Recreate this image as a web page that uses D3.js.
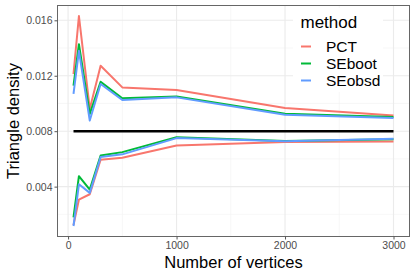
<!DOCTYPE html>
<html>
<head>
<meta charset="utf-8">
<script src="https://cdn.jsdelivr.net/npm/d3@7"></script>
<style>
  html, body { margin: 0; padding: 0; background: #fff; }
  svg { display: block; font-family: "Liberation Sans", Arial, sans-serif; }
</style>
</head>
<body>
<div class="chart"></div>
<script>
(function () {
    "use strict";

    // data
    var vertices = [50, 100, 200, 300, 500, 1000, 2000, 3000];
    var trueDensity = 0.008;
    var methods = ['PCT', 'SEboot', 'SEobsd'];
    var colors = ['#F8766D', '#00BA38', '#619CFF'];
    var pctUpper = [0.01212, 0.01631, 0.00961, 0.01272, 0.01116, 0.01097, 0.00968, 0.00913];
    var pctLower = [0.00122, 0.00307, 0.00345, 0.00594, 0.00609, 0.00697, 0.00722, 0.00726];
    var sebootUpper = [0.01128, 0.01428, 0.00925, 0.01157, 0.01037, 0.01051, 0.00925, 0.00903];
    var sebootLower = [0.00178, 0.00475, 0.00379, 0.00625, 0.00649, 0.00757, 0.00730, 0.00742];
    var seobsdUpper = [0.01069, 0.01380, 0.00877, 0.01140, 0.01025, 0.01044, 0.00918, 0.00896];
    var seobsdLower = [0.00116, 0.00417, 0.00355, 0.00613, 0.00633, 0.00750, 0.00728, 0.00745];
    var xTicks = [0, 1000, 2000, 3000];
    var xMinor = [500, 1500, 2500];
    var yTicks = [0.004, 0.008, 0.012, 0.016];
    var yMinor = [0.002, 0.006, 0.010, 0.014];

    var config = {
        width: 415,
        height: 277,
        margin: { top: 5.5, right: 5.5, bottom: 40.5, left: 57.5 }
    };

    var bounds = [
        { method: 0, values: pctUpper }, { method: 0, values: pctLower },
        { method: 1, values: sebootUpper }, { method: 1, values: sebootLower },
        { method: 2, values: seobsdUpper }, { method: 2, values: seobsdLower }
    ];

    function expand(ext) {
        var pad = (ext[1] - ext[0]) * 0.05;
        return [ext[0] - pad, ext[1] + pad];
    }

    function drawChart() {
        var margin = config.margin;
        var w = config.width - margin.left - margin.right;
        var h = config.height - margin.top - margin.bottom;

        var svg = d3.select('.chart').html('').append('svg')
            .attr('width', config.width)
            .attr('height', config.height);

        var allValues = d3.merge(bounds.map(function (b) { return b.values; }));
        var x = d3.scaleLinear().domain(expand(d3.extent(vertices))).range([0, w]);
        var y = d3.scaleLinear().domain(expand(d3.extent(allValues))).range([h, 0]);

        var g = svg.append('g')
            .attr('transform', 'translate(' + margin.left + ',' + margin.top + ')');

        // grid
        g.selectAll('.xminor').data(xMinor).enter().append('line')
            .attr('x1', x).attr('x2', x).attr('y1', 0).attr('y2', h)
            .attr('stroke', '#f2f2f2').attr('stroke-width', 0.6);
        g.selectAll('.yminor').data(yMinor).enter().append('line')
            .attr('y1', y).attr('y2', y).attr('x1', 0).attr('x2', w)
            .attr('stroke', '#f2f2f2').attr('stroke-width', 0.6);
        g.selectAll('.xmajor').data(xTicks).enter().append('line')
            .attr('x1', x).attr('x2', x).attr('y1', 0).attr('y2', h)
            .attr('stroke', '#ebebeb').attr('stroke-width', 1.1);
        g.selectAll('.ymajor').data(yTicks).enter().append('line')
            .attr('y1', y).attr('y2', y).attr('x1', 0).attr('x2', w)
            .attr('stroke', '#ebebeb').attr('stroke-width', 1.1);

        var line = d3.line()
            .x(function (d, i) { return x(vertices[i]); })
            .y(function (d) { return y(d); });

        g.append('path')
            .datum(vertices.map(function () { return trueDensity; }))
            .attr('d', line)
            .attr('fill', 'none')
            .attr('stroke', '#000')
            .attr('stroke-width', 2.6);

        g.selectAll('.bound').data(bounds).enter().append('path')
            .attr('d', function (d) { return line(d.values); })
            .attr('fill', 'none')
            .attr('stroke', function (d) { return colors[d.method]; })
            .attr('stroke-width', 2)
            .attr('stroke-linejoin', 'round');

        // legend (inside the panel, top right)
        var legend = g.append('g').attr('transform', 'translate(' + (w - 116.5) + ',2.5)');
        legend.append('rect')
            .attr('width', 90).attr('height', 84).attr('fill', '#fff');
        legend.append('text')
            .attr('x', 7.5).attr('y', 20)
            .style('font-size', '17px').attr('fill', '#000')
            .text('method');
        var item = legend.selectAll('.item').data(methods).enter().append('g')
            .attr('transform', function (d, i) { return 'translate(0,' + (38.5 + i * 17) + ')'; });
        item.append('line')
            .attr('x1', 8).attr('x2', 18)
            .attr('stroke', function (d, i) { return colors[i]; })
            .attr('stroke-width', 2);
        item.append('text')
            .attr('x', 33).attr('dy', '0.36em')
            .style('font-size', '15.5px').attr('fill', '#000')
            .text(function (d) { return d; });

        // panel border
        g.append('rect').attr('width', w).attr('height', h)
            .attr('fill', 'none').attr('stroke', '#666').attr('stroke-width', 1);

        // axes
        var xAxis = g.append('g').attr('transform', 'translate(0,' + h + ')')
            .call(d3.axisBottom(x).tickValues(xTicks).tickSize(3).tickPadding(2).tickFormat(d3.format('d')));
        var yAxis = g.append('g')
            .call(d3.axisLeft(y).tickValues(yTicks).tickSize(3).tickPadding(2).tickFormat(d3.format('.3f')));
        [xAxis, yAxis].forEach(function (ax) {
            ax.select('.domain').remove();
            ax.selectAll('.tick line').attr('stroke', '#555');
            ax.selectAll('.tick text').attr('fill', '#4d4d4d')
                .style('font-size', '10.5px').style('font-family', '"Liberation Sans", Arial, sans-serif');
        });

        g.append('text')
            .attr('x', w / 2).attr('y', h + 31)
            .attr('text-anchor', 'middle')
            .style('font-size', '16.5px').attr('fill', '#000')
            .text('Number of vertices');
        g.append('text')
            .attr('transform', 'translate(' + (-margin.left + 18.5) + ',' + (h / 2) + ') rotate(-90)')
            .attr('text-anchor', 'middle')
            .style('font-size', '16.5px').attr('fill', '#000')
            .text('Triangle density');
    }

    drawChart();
})();
</script>
</body>
</html>
